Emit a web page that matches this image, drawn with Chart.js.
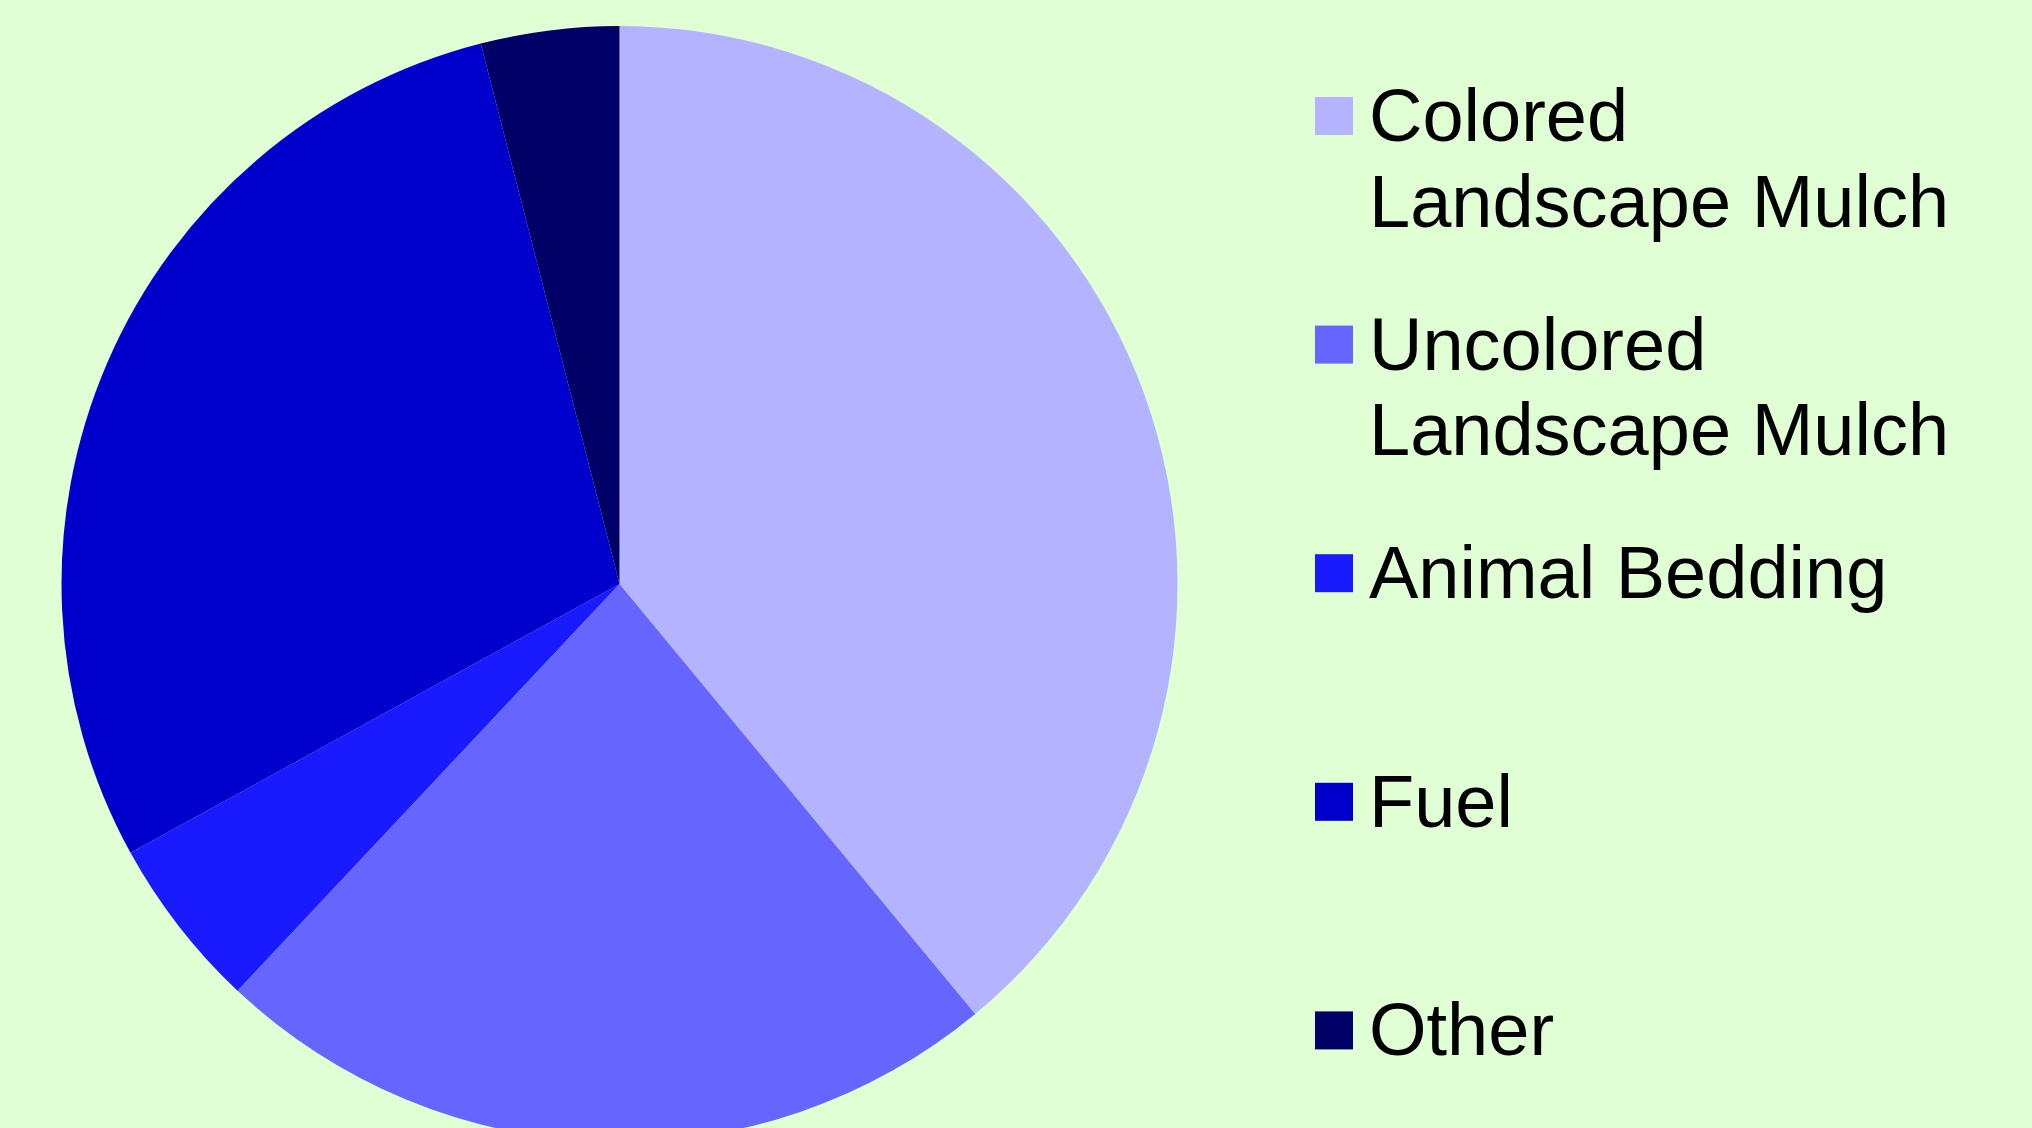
<!DOCTYPE html>
<html>
<head>
<meta charset="utf-8">
<script src="https://cdn.jsdelivr.net/npm/chart.js@4.4.1/dist/chart.umd.min.js"></script>
<style>
  html, body { margin: 0; padding: 0; overflow: hidden; background: #e0ffd5; }
  #wrap { position: absolute; left: 0; top: 0; width: 2032px; height: 1160px; }
</style>
</head>
<body>
<div id="wrap"><canvas id="pie"></canvas></div>
<script>
const categories = [
  ["Colored", "Landscape Mulch"],
  ["Uncolored", "Landscape Mulch"],
  ["Animal Bedding"],
  ["Fuel"],
  ["Other"],
];
const shares = [39, 23, 5, 29, 4];
const sliceColors = ["#b3b3ff", "#6666ff", "#1a1aff", "#0000cc", "#000066"];

// right-hand legend, drawn by hand so labels can wrap like the original
const sideLegend = {
  id: "sideLegend",
  afterDraw(chart) {
    const ctx = chart.ctx;
    const colors = chart.data.datasets[0].backgroundColor;
    ctx.save();
    ctx.font = "74px 'Liberation Sans', Arial, sans-serif";
    ctx.textBaseline = "alphabetic";
    chart.data.labels.forEach((lines, i) => {
      const y = 141 + i * 228.6;
      ctx.fillStyle = colors[i];
      ctx.fillRect(1315, y - 44, 38, 38);
      ctx.fillStyle = "#000";
      lines.forEach((line, j) => ctx.fillText(line, 1369, y + j * 85.7));
    });
    ctx.restore();
  },
};

new Chart(document.getElementById("pie").getContext("2d"), {
  type: "pie",
  data: {
    labels: categories,
    datasets: [
      {
        data: shares,
        backgroundColor: sliceColors,
        borderWidth: 0,
        hoverOffset: 0,
      },
    ],
  },
  options: {
    responsive: true,
    maintainAspectRatio: false,
    animation: false,
    layout: {
      padding: { left: 61.5, right: 854.5, top: 26, bottom: 18 },
    },
    plugins: {
      legend: { display: false },
      tooltip: { enabled: false },
    },
  },
  plugins: [sideLegend],
});
</script>
</body>
</html>
